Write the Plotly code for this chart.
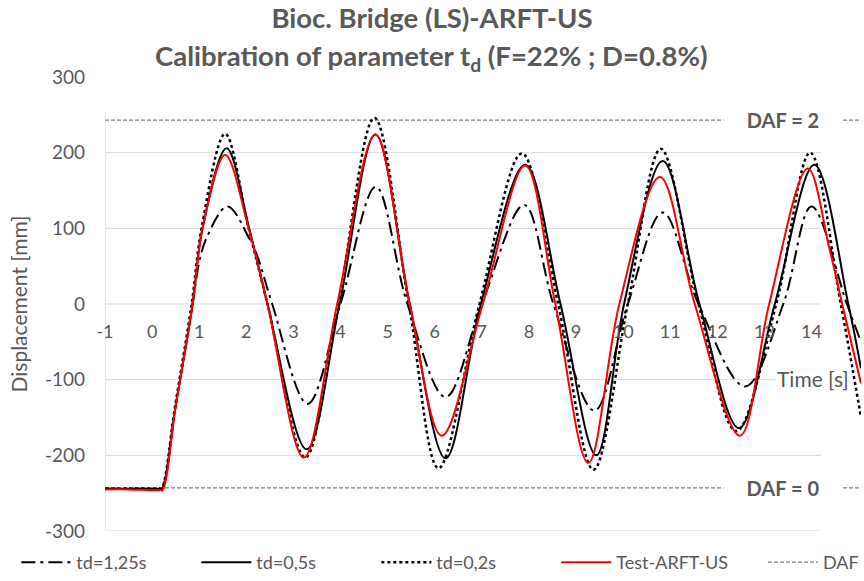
import plotly.graph_objects as go

# ---- time histories of midspan displacement [mm] vs time [s] ----
t_125 = [-1, -0.5, 0, 0.15, 0.21, 0.5, 0.86, 1.0, 1.16, 1.6, 2.06, 2.23, 2.55, 3.3, 4.0, 4.75, 5.42, 6.23, 7.0, 7.9, 8.52, 9.39, 10.1, 10.84, 11.6, 12.59, 13.4, 14.0, 14.75, 15.05]
d_125 = [-244, -244, -244, -244, -244, -135, 0, 55, 88, 129, 87, 64, 0, -132, 0, 155, 0, -123, 0, 131, 0, -141, 0, 121, 0, -109, 0, 129, 0, -50]

t_050 = [-1, -0.5, 0, 0.15, 0.21, 0.5, 0.86, 1.07, 1.58, 2.06, 2.45, 3.28, 3.98, 4.74, 5.47, 6.23, 6.98, 7.92, 8.67, 9.43, 10.02, 10.84, 11.62, 12.46, 13.22, 14.06, 14.78, 15.05]
d_050 = [-244, -244, -244, -244, -244, -135, 0, 100, 206, 100, 0, -192, 0, 224, 0, -204, 0, 184, 0, -200, 0, 189, 0, -164, 0, 184, 0, -85]

t_020 = [-1, -0.5, 0, 0.14, 0.2, 0.48, 0.84, 1.05, 1.55, 2.05, 2.45, 3.25, 3.95, 4.72, 5.45, 6.08, 6.95, 7.85, 8.62, 9.37, 10.1, 10.8, 11.6, 12.4, 13.25, 13.97, 14.62, 15.05]
d_020 = [-244, -244, -244, -244, -244, -138, 0, 100, 225, 100, 0, -203, 0, 246, 0, -217, 0, 199, 0, -219, 0, 205, 0, -168, 0, 200, 0, -150]

t_test = [-1, -0.5, 0, 0.16, 0.22, 0.5, 0.86, 1.07, 1.55, 2.05, 2.45, 3.22, 3.93, 4.74, 5.47, 6.15, 7.02, 7.92, 8.56, 9.26, 9.92, 10.78, 11.52, 12.48, 13.1, 13.92, 14.38, 14.65, 15.05]
d_test = [-245, -245, -246, -246, -246, -135, 0, 100, 197, 100, 0, -203, 0, 224, 0, -174, 0, 183, 0, -210, 0, 168, 0, -174, 0, 179, 73, 0, -105]

# dynamic amplification reference levels
daf_levels = [243, -243]
daf_labels = ["DAF = 2", "DAF = 0"]

x_ticks = list(range(-1, 15))
y_ticks = [-300, -200, -100, 0, 100, 200, 300]
grid_levels = [-300, -200, -100, 0, 100, 200]

FONT = "Lato"
GREY = "#595959"
W, H = 864, 581
ML, MR, MT, MB = 105, 0, 77, 48
PW, PH = W - ML - MR, H - MT - MB

fig = go.Figure()

# DAF reference lines (drawn first, shown in a separate legend at the right)
daf_x, daf_y = [], []
for lvl in daf_levels:
    daf_x += [-1, 15.05, None]
    daf_y += [lvl, lvl, None]
fig.add_trace(go.Scatter(
    x=daf_x, y=daf_y, mode="lines", name="DAF", legend="legend2",
    line=dict(color="#7f7f7f", width=1.2, dash="4px,2px"),
))

series = [
    ("td=1,25s", t_125, d_125, dict(color="black", width=2, dash="14px,5px,3px,5px")),
    ("td=0,5s", t_050, d_050, dict(color="black", width=2)),
    ("td=0,2s", t_020, d_020, dict(color="black", width=2.5, dash="dot")),
    ("Test-ARFT-US", t_test, d_test, dict(color="#ff0000", width=2)),
]
for name, t, d, ln in series:
    fig.add_trace(go.Scatter(
        x=t, y=d, mode="lines", name=name,
        line=dict(shape="spline", smoothing=1.0, **ln),
    ))

# horizontal gridlines and vertical axis line
shapes = []
for g in grid_levels:
    shapes.append(dict(type="line", xref="x", yref="y", x0=-1, x1=14.2, y0=g, y1=g,
                       line=dict(color="#d9d9d9", width=1), layer="below"))
shapes.append(dict(type="line", xref="x", yref="y", x0=-1, x1=-1, y0=-300, y1=254,
                   line=dict(color="#d9d9d9", width=1), layer="below"))

title_x = (432 - ML) / PW
annotations = [
    dict(text="<b>Calibration of parameter t<sub>d</sub> (F=22% ; D=0.8%)</b>",
         xref="paper", yref="paper", x=title_x, y=1 + 20 / PH, xanchor="center", yanchor="middle",
         showarrow=False, font=dict(family=FONT, size=27.5, color=GREY)),
]
for lvl, lab in zip(daf_levels, daf_labels):
    annotations.append(dict(text="<b>" + lab + "</b>", x=13.4, y=lvl, xref="x", yref="y",
                            showarrow=False, bgcolor="white", width=116,
                            font=dict(family=FONT, size=20, color=GREY)))
annotations.append(dict(text="Time [s]", x=14.03, y=-98, xref="x", yref="y",
                        showarrow=False, bgcolor="white",
                        font=dict(family=FONT, size=21, color=GREY)))

legend_font = dict(family=FONT, size=18, color=GREY)
fig.update_layout(
    width=W, height=H,
    margin=dict(l=ML, r=MR, t=MT, b=MB),
    paper_bgcolor="white", plot_bgcolor="white",
    title=dict(text="<b>Bioc. Bridge (LS)-ARFT-US</b>", x=432 / W, xanchor="center",
               y=1 - 18 / H, yanchor="middle", yref="container",
               font=dict(family=FONT, size=27.5, color=GREY)),
    xaxis=dict(range=[-1, 15.05], tickvals=x_ticks, ticktext=[str(v) for v in x_ticks],
               anchor="free", position=0.5,
               showgrid=False, zeroline=False, showline=False, ticks="",
               ticklabelstandoff=15, tickfont=dict(family=FONT, size=18, color=GREY)),
    yaxis=dict(range=[-300, 300], tickvals=y_ticks, ticktext=[str(v) for v in y_ticks],
               showgrid=False, zeroline=False,
               showline=False, ticks="", ticklabelstandoff=19,
               tickfont=dict(family=FONT, size=19, color=GREY),
               title=dict(text="Displacement [mm]", standoff=11,
                          font=dict(family=FONT, size=21, color=GREY))),
    legend=dict(orientation="h", x=(16 - ML) / PW, xanchor="left", y=-32 / PH, yanchor="middle",
                itemwidth=50, entrywidth=115, entrywidthmode="pixels",
                font=legend_font, bgcolor="rgba(0,0,0,0)"),
    legend2=dict(orientation="h", x=(766 - ML) / PW, xanchor="left", y=-32 / PH, yanchor="middle",
                 itemwidth=50, font=legend_font, bgcolor="rgba(0,0,0,0)"),
    shapes=shapes,
    annotations=annotations,
)

fig.write_html("out.html")
